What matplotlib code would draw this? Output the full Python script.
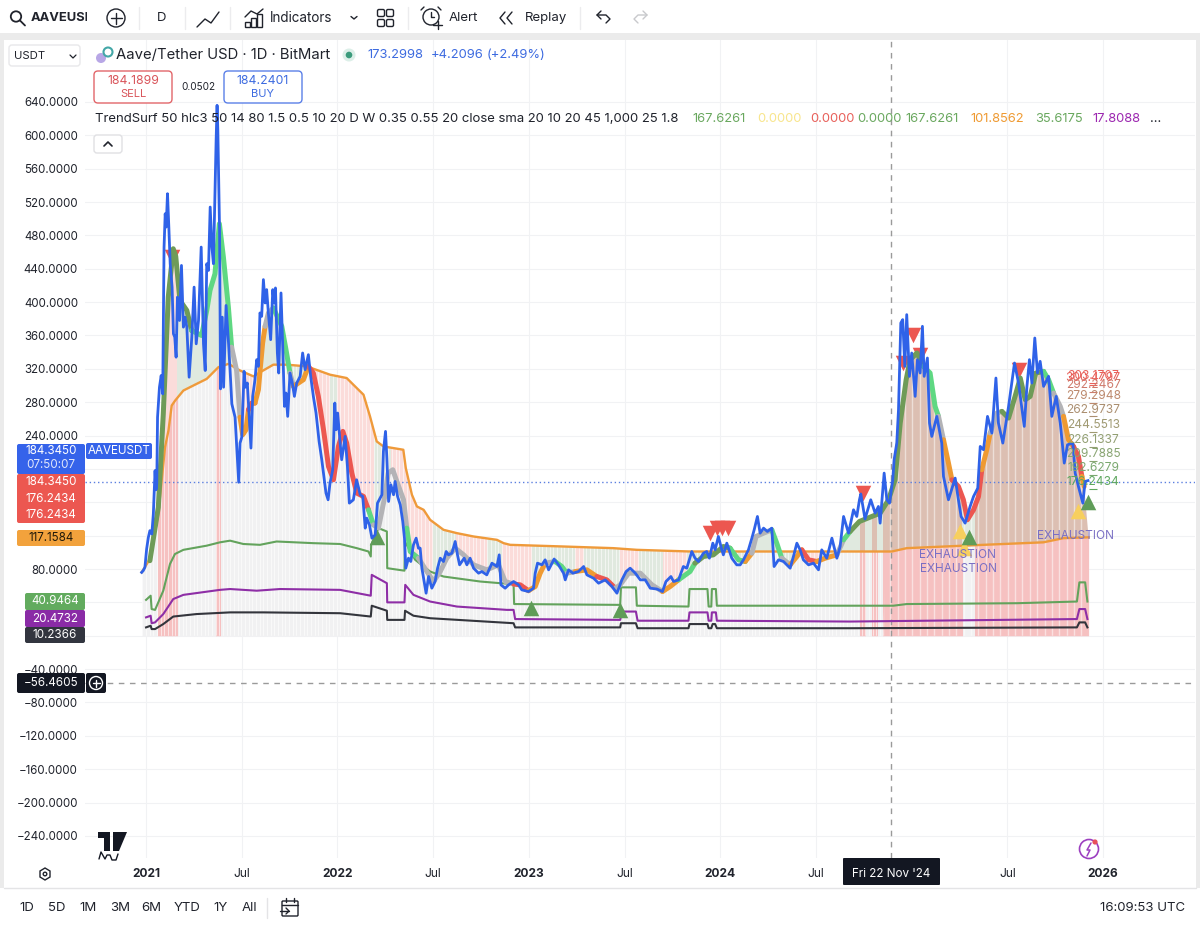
import numpy as np
import matplotlib
matplotlib.use('Agg')
import matplotlib.pyplot as plt
from matplotlib.patches import Rectangle, FancyBboxPatch, Circle, Polygon

plt.rcParams['font.family'] = ['Inter', 'DejaVu Sans']

# ── data ──────────────────────────────────────────────────────────────────────

price_x = [2020.977, 2020.985, 2020.994, 2021.003, 2021.012, 2021.02, 2021.03, 2021.038, 2021.047, 2021.052,
           2021.056, 2021.06, 2021.07, 2021.079, 2021.087, 2021.094, 2021.1, 2021.105, 2021.112, 2021.119,
           2021.126, 2021.136, 2021.143, 2021.15, 2021.157, 2021.164, 2021.175, 2021.185, 2021.195, 2021.204,
           2021.213, 2021.225, 2021.239, 2021.251, 2021.262, 2021.274, 2021.288, 2021.3, 2021.309, 2021.317,
           2021.326, 2021.335, 2021.344, 2021.352, 2021.366, 2021.371, 2021.375, 2021.384, 2021.389, 2021.398,
           2021.405, 2021.418, 2021.431, 2021.439, 2021.448, 2021.465, 2021.484, 2021.491, 2021.5, 2021.512,
           2021.519, 2021.529, 2021.538, 2021.548, 2021.557, 2021.569, 2021.578, 2021.587, 2021.595, 2021.604,
           2021.613, 2021.622, 2021.63, 2021.639, 2021.651, 2021.662, 2021.669, 2021.676, 2021.686, 2021.693,
           2021.705, 2021.714, 2021.723, 2021.731, 2021.74, 2021.752, 2021.764, 2021.775, 2021.787, 2021.805,
           2021.818, 2021.831, 2021.848, 2021.86, 2021.874, 2021.888, 2021.904, 2021.918, 2021.927, 2021.94,
           2021.951, 2021.961, 2021.975, 2021.986, 2021.993, 2022.001, 2022.014, 2022.022, 2022.04, 2022.052,
           2022.062, 2022.083, 2022.1, 2022.119, 2022.132, 2022.145, 2022.153, 2022.167, 2022.18, 2022.197,
           2022.209, 2022.232, 2022.24, 2022.251, 2022.258, 2022.267, 2022.279, 2022.293, 2022.301, 2022.314,
           2022.328, 2022.341, 2022.35, 2022.357, 2022.371, 2022.383, 2022.397, 2022.411, 2022.423, 2022.432,
           2022.441, 2022.45, 2022.463, 2022.476, 2022.493, 2022.51, 2022.523, 2022.537, 2022.554, 2022.568,
           2022.58, 2022.598, 2022.615, 2022.627, 2022.638, 2022.65, 2022.662, 2022.676, 2022.693, 2022.711,
           2022.737, 2022.754, 2022.78, 2022.807, 2022.833, 2022.845, 2022.854, 2022.876, 2022.894, 2022.92,
           2022.946, 2022.963, 2022.998, 2023.024, 2023.033, 2023.045, 2023.068, 2023.085, 2023.103, 2023.132,
           2023.155, 2023.181, 2023.19, 2023.207, 2023.23, 2023.259, 2023.286, 2023.303, 2023.338, 2023.364,
           2023.399, 2023.434, 2023.46, 2023.486, 2023.508, 2023.529, 2023.556, 2023.582, 2023.608, 2023.634,
           2023.669, 2023.698, 2023.716, 2023.742, 2023.756, 2023.782, 2023.807, 2023.825, 2023.851, 2023.868,
           2023.886, 2023.912, 2023.929, 2023.943, 2023.961, 2023.973, 2023.99, 2024.008, 2024.016, 2024.034,
           2024.06, 2024.086, 2024.104, 2024.121, 2024.147, 2024.165, 2024.177, 2024.194, 2024.208, 2024.226,
           2024.246, 2024.269, 2024.281, 2024.304, 2024.33, 2024.365, 2024.382, 2024.4, 2024.417, 2024.434,
           2024.461, 2024.487, 2024.513, 2024.53, 2024.556, 2024.583, 2024.609, 2024.626, 2024.644, 2024.67,
           2024.696, 2024.713, 2024.727, 2024.734, 2024.756, 2024.786, 2024.809, 2024.826, 2024.835, 2024.856,
           2024.87, 2024.884, 2024.901, 2024.908, 2024.922, 2024.931, 2024.943, 2024.953, 2024.964, 2024.974,
           2024.988, 2025.0, 2025.018, 2025.03, 2025.044, 2025.056, 2025.065, 2025.082, 2025.093, 2025.105,
           2025.131, 2025.157, 2025.166, 2025.192, 2025.227, 2025.244, 2025.258, 2025.279, 2025.305, 2025.323,
           2025.345, 2025.358, 2025.375, 2025.396, 2025.419, 2025.44, 2025.453, 2025.476, 2025.506, 2025.537,
           2025.558, 2025.588, 2025.602, 2025.615, 2025.628, 2025.643, 2025.657, 2025.671, 2025.689, 2025.715,
           2025.732, 2025.755, 2025.776, 2025.797, 2025.814, 2025.842, 2025.854, 2025.871, 2025.894, 2025.906,
           2025.921]
price_y = [76, 78, 82, 104, 118, 126, 122, 146, 198, 175,
           182, 262, 298, 312, 290, 466, 506, 490, 530, 490,
           446, 418, 362, 358, 334, 406, 378, 444, 370, 382,
           370, 310, 358, 418, 350, 378, 466, 350, 318, 446,
           438, 514, 466, 446, 594, 636, 606, 486, 296, 382,
           298, 396, 350, 318, 278, 262, 184, 231, 238, 317,
           298, 303, 267, 225, 287, 307, 331, 323, 387, 383,
           427, 399, 415, 387, 355, 415, 399, 417, 339, 315,
           411, 347, 275, 291, 263, 315, 303, 287, 303, 311,
           339, 319, 337, 311, 287, 267, 233, 211, 195, 171,
           163, 183, 199, 279, 247, 267, 231, 211, 239, 203,
           159, 163, 187, 169, 167, 129, 141, 133, 117, 121,
           159, 169, 221, 245, 213, 161, 181, 169, 185, 167,
           157, 137, 117, 81, 93, 89, 109, 117, 105, 105,
           81, 69, 51, 71, 57, 65, 81, 93, 89, 101,
           97, 99, 113, 97, 85, 89, 93, 85, 93, 81,
           75, 77, 73, 87, 83, 97, 61, 57, 61, 65,
           61, 55, 53, 57, 75, 87, 85, 91, 79, 92,
           85, 75, 67, 79, 75, 77, 83, 73, 69, 63,
           67, 59, 51, 67, 77, 81, 75, 67, 67, 57,
           56, 53, 65, 71, 65, 67, 83, 81, 101, 93,
           89, 99, 101, 93, 111, 103, 119, 103, 97, 111,
           93, 85, 85, 91, 103, 117, 127, 143, 123, 129,
           125, 129, 83, 91, 89, 81, 95, 111, 103, 91,
           85, 87, 79, 103, 93, 117, 93, 107, 143, 123,
           151, 143, 163, 170, 140, 163, 147, 155, 135, 195,
           163, 159, 187, 211, 231, 271, 375, 379, 323, 385,
           311, 339, 287, 331, 315, 371, 311, 333, 255, 239,
           263, 231, 191, 163, 189, 163, 143, 135, 155, 167,
           177, 227, 223, 263, 243, 309, 255, 231, 275, 327,
           303, 251, 299, 331, 303, 357, 315, 329, 299, 311,
           263, 287, 255, 207, 229, 231, 195, 179, 159, 185,
           186]

trend_x = [2021.02, 2021.064, 2021.09, 2021.116, 2021.142, 2021.155, 2021.177, 2021.213, 2021.238, 2021.29,
           2021.317, 2021.334, 2021.36, 2021.383, 2021.404, 2021.43, 2021.447, 2021.473, 2021.491, 2021.505,
           2021.522, 2021.535, 2021.552, 2021.569, 2021.587, 2021.596, 2021.609, 2021.622, 2021.639, 2021.665,
           2021.709, 2021.731, 2021.752, 2021.77, 2021.796, 2021.822, 2021.848, 2021.874, 2021.9, 2021.927,
           2021.953, 2021.979, 2022.005, 2022.028, 2022.048, 2022.075, 2022.101, 2022.136, 2022.162, 2022.188,
           2022.214, 2022.249, 2022.265, 2022.289, 2022.31, 2022.345, 2022.362, 2022.38, 2022.423, 2022.467,
           2022.502, 2022.537, 2022.571, 2022.615, 2022.659, 2022.711, 2022.78, 2022.841, 2022.876, 2022.92,
           2022.955, 2022.998, 2023.033, 2023.059, 2023.085, 2023.137, 2023.172, 2023.198, 2023.242, 2023.303,
           2023.355, 2023.407, 2023.451, 2023.477, 2023.521, 2023.582, 2023.643, 2023.698, 2023.738, 2023.782,
           2023.842, 2023.868, 2023.912, 2023.964, 2024.016, 2024.051, 2024.095, 2024.13, 2024.165, 2024.187,
           2024.226, 2024.269, 2024.295, 2024.321, 2024.365, 2024.4, 2024.426, 2024.461, 2024.504, 2024.548,
           2024.609, 2024.644, 2024.678, 2024.727, 2024.835, 2024.879, 2024.913, 2024.94, 2024.971, 2024.992,
           2025.027, 2025.061, 2025.096, 2025.122, 2025.14, 2025.166, 2025.192, 2025.21, 2025.244, 2025.27,
           2025.291, 2025.323, 2025.349, 2025.366, 2025.392, 2025.41, 2025.445, 2025.471, 2025.506, 2025.54,
           2025.567, 2025.593, 2025.619, 2025.648, 2025.689, 2025.715, 2025.741, 2025.776, 2025.793, 2025.819,
           2025.845, 2025.871, 2025.889, 2025.901]
trend_y = [90, 154, 266, 406, 464, 455, 402, 390, 366, 360,
           390, 414, 434, 494, 454, 394, 346, 318, 262, 241,
           247, 271, 279, 279, 295, 319, 351, 371, 387, 393,
           371, 343, 315, 299, 303, 307, 323, 315, 287, 247,
           203, 187, 227, 245, 231, 195, 171, 167, 151, 133,
           129, 169, 195, 199, 185, 163, 129, 101, 93, 77,
           65, 77, 93, 105, 97, 85, 79, 85, 65, 62,
           61, 54, 59, 75, 87, 89, 83, 75, 77, 79,
           71, 67, 57, 61, 75, 75, 61, 53, 59, 67,
           77, 87, 95, 97, 107, 105, 91, 89, 99, 119,
           123, 127, 111, 93, 85, 95, 103, 91, 89, 93,
           97, 115, 125, 137, 147, 163, 187, 255, 307, 331,
           339, 323, 315, 275, 263, 235, 207, 187, 179, 163,
           139, 151, 167, 199, 223, 243, 267, 269, 261, 287,
           309, 283, 287, 315, 317, 307, 291, 275, 263, 235,
           227, 215, 191, 179]
# state of each trend point: d olive, g green, o orange, r red, k grey
trend_state = ('ddddddddgg' 'ggggggkkoo' 'orrooookkg' 'ggkooorrrr' 'rrrrrrrrgk'
               'kkkkkkggkk' 'kkkkkkkkkr' 'roookggkoo' 'rrkkkkkoog' 'gddddggokk'
               'kggkoorroo' 'kgdddddddd' 'dgggkoorrr' 'rrrookkddd' 'ddddggkkoo' 'rroo')

orange_x = [2020.977, 2021.02, 2021.064, 2021.099, 2021.117, 2021.134, 2021.152, 2021.195, 2021.247, 2021.317,
            2021.378, 2021.431, 2021.491, 2021.561, 2021.604, 2021.665, 2021.735, 2021.839, 2021.961, 2022.048,
            2022.083, 2022.136, 2022.17, 2022.205, 2022.24, 2022.344, 2022.357, 2022.389, 2022.415, 2022.45,
            2022.484, 2022.554, 2022.624, 2022.711, 2022.833, 2022.868, 2022.902, 2023.18, 2023.442, 2023.564,
            2023.843, 2024.678, 2024.896, 2024.974, 2025.375, 2025.688, 2025.793, 2025.924]
orange_y = [76, 92, 146, 226, 246, 276, 282, 294, 300, 308,
            322, 326, 318, 311, 317, 325, 325, 323, 313, 309,
            301, 289, 263, 233, 227, 223, 201, 169, 155, 151,
            139, 127, 123, 119, 115, 111, 109, 107, 105, 103,
            101, 101, 101, 105, 109, 112, 117, 118]

atr1_x = [2021.0, 2021.024, 2021.029, 2021.047, 2021.09, 2021.125, 2021.151, 2021.195, 2021.317, 2021.386,
          2021.439, 2021.508, 2021.595, 2021.682, 2021.874, 2022.014, 2022.101, 2022.162, 2022.174, 2022.176,
          2022.214, 2022.258, 2022.26, 2022.35, 2022.352, 2022.406, 2022.484, 2022.554, 2022.746, 2022.85,
          2022.92, 2022.923, 2023.477, 2023.481, 2023.559, 2023.564, 2023.834, 2023.839, 2023.933, 2023.939,
          2023.953, 2023.956, 2023.977, 2023.982, 2024.678, 2024.904, 2024.974, 2025.549, 2025.863, 2025.876,
          2025.906, 2025.918]
atr1_y = [43, 48, 32, 31, 54, 86, 98, 103, 108, 112,
          114, 110, 109, 113, 111, 110, 105, 101, 95, 109,
          129, 125, 81, 78, 113, 91, 77, 71, 65, 63,
          62, 38, 37, 58, 58, 36, 35, 56, 56, 35,
          35, 56, 56, 36, 36, 36, 38, 39, 41, 64,
          64, 41]

atr2_x = [2021.0, 2021.024, 2021.029, 2021.047, 2021.09, 2021.142, 2021.195, 2021.386, 2021.439, 2021.578,
          2021.7, 2022.014, 2022.174, 2022.179, 2022.258, 2022.26, 2022.35, 2022.354, 2022.397, 2022.484,
          2022.624, 2022.885, 2022.92, 2022.928, 2023.477, 2023.486, 2023.559, 2023.568, 2023.834, 2023.839,
          2023.933, 2023.939, 2023.953, 2023.956, 2023.977, 2023.982, 2024.678, 2025.863, 2025.876, 2025.906,
          2025.918]
atr2_y = [22, 24, 15, 16, 26, 44, 49, 55, 56, 54,
          56, 55, 48, 73, 63, 40, 40, 61, 49, 41,
          35, 31, 31, 20, 19, 29, 29, 18, 18, 28,
          28, 18, 18, 28, 28, 18, 17, 20, 32, 32,
          20]

atr3_x = [2021.0, 2021.024, 2021.029, 2021.047, 2021.09, 2021.142, 2021.264, 2021.439, 2021.613, 2022.014,
          2022.174, 2022.179, 2022.258, 2022.26, 2022.35, 2022.353, 2022.397, 2022.484, 2022.92, 2022.928,
          2023.477, 2023.481, 2023.559, 2023.568, 2023.834, 2023.839, 2023.933, 2023.939, 2023.953, 2023.96,
          2023.973, 2023.982, 2024.678, 2025.863, 2025.876, 2025.906, 2025.918]
atr3_y = [10, 12, 8, 8, 14, 23, 26, 28, 28, 27,
          23, 36, 30, 19, 19, 30, 24, 21, 15, 10,
          10, 15, 15, 9, 9, 14, 14, 9, 9, 14,
          14, 9, 9, 10, 16, 16, 10]

# strong red background periods, and the tint of the band between trend and long line
strong_start = [2021.06, 2021.365, 2024.73, 2024.791, 2024.852, 2025.331]
strong_end = [2021.16, 2021.385, 2024.756, 2024.817, 2025.262, 2025.924]
band_start = [2020.98, 2021.06, 2021.16, 2021.385, 2021.49, 2021.6, 2021.86, 2021.96, 2022.0, 2022.19,
              2022.28, 2022.5, 2022.62, 2022.78, 2022.86, 2023.015, 2023.24, 2023.29, 2023.475, 2023.573,
              2023.7, 2023.825, 2024.45, 2024.53, 2024.73, 2024.756, 2024.791, 2024.817, 2024.852, 2025.262,
              2025.331]
band_end = band_start[1:] + [2025.93]
band_kind = 'gpggpgpgpgpgpgpgpgpgpgpgsgsgsgs'

sell_x = [2021.136, 2023.947, 2023.983, 2024.01, 2024.04, 2024.746, 2024.955, 2025.006, 2025.044, 2025.56]
sell_y = [454, 123, 129, 129, 129, 171, 327, 360, 337, 319]
buy_x = [2022.205, 2023.013, 2023.476, 2025.3, 2025.92]
buy_y = [118, 33, 31, 118, 160]
warn_x = [2025.25, 2025.275, 2025.87]
warn_y = [125, 105, 150]

exh_x = [2025.24, 2025.245, 2025.855]
exh_y = [97, 80, 120]

lvl_labels = ['303.1707', '300.4797', '292.2467', '279.2948', '262.9737', '244.5513', '226.1337', '209.7885', '192.6279', '176.2434']
lvl_vals = [303.17, 300.48, 292.25, 279.29, 262.97, 244.55, 226.13, 209.79, 192.63, 176.24]
lvl_colors = ['#e8605a', '#e8605a', '#cf7a6c', '#bd8a6e', '#ab8f70', '#a09a72', '#929f72', '#89a572', '#7aa86f', '#5ea75f']

y_ticks = [640, 600, 560, 520, 480, 440, 400, 360, 320, 280, 240, 200, 160, 120, 80, 40, 0, -40, -80, -120, -160, -200, -240]
y_hidden = [200, 160, 120, 40, 0]
x_ticks = [2021, 2021.5, 2022, 2022.5, 2023, 2023.5, 2024, 2024.5, 2025.5, 2026]
x_labels = ['2021', 'Jul', '2022', 'Jul', '2023', 'Jul', '2024', 'Jul', 'Jul', '2026']

last_price = 184.345
cursor_price = -56.4605
cursor_date = 2024.893

indicator_text = 'TrendSurf 50 hlc3 50 14 80 1.5 0.5 10 20 D W 0.35 0.55 20 close sma 20 10 20 45 1,000 25 1.8'
indicator_vals = ['167.6261', '0.0000', '0.0000', '0.0000', '167.6261', '101.8562', '35.6175', '17.8088']
indicator_cols = ['#6aa85f', '#f8e58c', '#e8605a', '#6aa85f', '#6aa85f', '#ef9a32', '#6aa85f', '#9c27b0']
indicator_pos = [692, 757, 810, 857, 905, 970, 1035, 1092]

# ── palette ───────────────────────────────────────────────────────────────────

C_BLUE = '#2f62e8'
C_ORANGE = '#ef9a3a'
C_RED = '#ec5750'
C_GRID = '#f1f2f4'
C_TEXT = '#20232c'
STATE_COL = {'d': '#6f9b58', 'g': '#5fd882', 'o': '#ef9a32', 'r': '#ec5750', 'k': '#b3b3b6'}
BAND_COL = {'g': '#e0e9df', 'p': '#fbdcda', 's': '#dcbfb2'}

W, H = 1200, 925
fig = plt.figure(figsize=(W / 100, H / 100), dpi=100, facecolor='#ebebeb')

# white panel behind the price scale and time scale
bg = fig.add_axes([4 / W, 1 - 888 / H, 1192 / W, 848 / H], facecolor='white', zorder=-1)
bg.set_xticks([])
bg.set_yticks([])
for s in bg.spines.values():
    s.set_visible(False)

# ── main pane, pixels 85..1195 by 40..858 ─────────────────────────────────────

ax = fig.add_axes([85 / W, 1 - 858 / H, (1195 - 85) / W, (858 - 40) / H], facecolor='white')
ax.set_xlim(2020.681, 2026.48)
ax.set_ylim(-266.5, 714.3)
for s in ax.spines.values():
    s.set_visible(False)
ax.set_yticks(y_ticks)
ax.set_yticklabels(['' if v in y_hidden else f'{v:.4f}'.replace('-', '−') for v in y_ticks], fontsize=8.3, color=C_TEXT)
ax.set_xticks(x_ticks)
ax.set_xticklabels(x_labels, fontsize=8.6, color=C_TEXT)
for lab, t in zip(ax.get_xticklabels(), x_labels):
    if t != 'Jul':
        lab.set_fontweight('bold')
ax.tick_params(length=0, axis='y', pad=5)
ax.tick_params(length=0, axis='x', pad=7)
ax.grid(True, color=C_GRID, lw=0.8)
ax.set_axisbelow(True)


def clip_span(artist, x0, x1):
    artist.set_clip_path(Rectangle((x0, -1000), x1 - x0, 3000, transform=ax.transData))


px, py = np.array(price_x), np.array(price_y)
tx, ty = np.array(trend_x), np.array(trend_y)
ox, oy = np.array(orange_x), np.array(orange_y)

# background under the long line
base = ax.fill_between(ox, 0, oy, color='#f1f1f2', lw=0, zorder=1)
for x0, x1 in zip(strong_start, strong_end):
    clip_span(ax.fill_between(ox, 0, oy, color='#f6c1c1', lw=0, zorder=1.2), x0, x1)

# band between the trend and the long line
for x0, x1, k in zip(band_start, band_end, band_kind):
    poly = ax.fill(np.r_[tx, ox[::-1]], np.r_[ty, oy[::-1]], color=BAND_COL[k], lw=0, zorder=1.4)[0]
    clip_span(poly, x0, x1)

# weekly stripes
weeks = np.arange(2020.98, 2024.85, 7 / 365)
stripes = ax.vlines(weeks, 0, 400, color='white', lw=0.7, alpha=0.6, zorder=1.6)
stripes.set_clip_path(base.get_paths()[0], ax.transData)
late = tx >= 2024.85
late_poly = Polygon(np.c_[np.r_[2024.85, tx[late], 2025.924], np.r_[0, ty[late], 0]], transform=ax.transData)
stripes2 = ax.vlines(np.arange(2024.85, 2025.93, 14 / 365), 0, 400, color='white', lw=1.0, alpha=0.5, zorder=1.6)
stripes2.set_clip_path(late_poly)

ax.axhline(last_price, color='#5b7fe0', lw=1, ls=(0, (1, 2)), zorder=2)
ax.axhline(cursor_price, color='#9a9a9a', lw=1, ls=(0, (4, 4)), zorder=2)
ax.axvline(cursor_date, color='#9a9a9a', lw=1, ls=(0, (4, 4)), zorder=2)

ax.plot(ox, oy, color=C_ORANGE, lw=1.7, zorder=3, solid_joinstyle='round')
ax.plot(atr1_x, atr1_y, color='#63a35c', lw=1.5, zorder=3)
ax.plot(atr2_x, atr2_y, color='#8e2ea6', lw=1.5, zorder=3)
ax.plot(atr3_x, atr3_y, color='#33353c', lw=1.5, zorder=3)

ax.scatter(sell_x, sell_y, marker='v', s=125, color=C_RED, lw=0, zorder=3.5)

# trend, one stroke per colour run
start = 0
for i in range(1, len(tx)):
    if i == len(tx) - 1 or trend_state[i] != trend_state[start]:
        ax.plot(tx[start:i + 1], ty[start:i + 1], color=STATE_COL[trend_state[start]], lw=3.6, zorder=4,
                solid_capstyle='round', solid_joinstyle='round')
        start = i

ax.scatter(warn_x, warn_y, marker='^', s=125, color='#f7cf5e', lw=0, zorder=4.6)
ax.scatter(buy_x, buy_y, marker='^', s=125, color='#5f9c58', lw=0, zorder=4.7)

ax.plot(px, py, color=C_BLUE, lw=2.0, zorder=5, solid_joinstyle='round')

for x, y in zip(exh_x, exh_y):
    ax.text(x, y, 'EXHAUSTION', color='#7a6fc4', fontsize=8.5, ha='center', va='center', zorder=6)

for lab, v, c in zip(lvl_labels, lvl_vals, lvl_colors):
    ax.hlines(v, 2025.927, 2025.969, color=c, lw=0.8, zorder=6)
    ax.text(2025.948, v + 1, lab, color=c, fontsize=8.6, ha='center', va='bottom', zorder=6)

# ── chrome, in pixels ─────────────────────────────────────────────────────────

ov = fig.add_axes([0, 0, 1, 1], facecolor='none')
ov.set_xlim(0, W)
ov.set_ylim(H, 0)
ov.axis('off')


def box(x0, y0, x1, y1, fc, ec='none', r=2, lw=1, z=3):
    ov.add_patch(FancyBboxPatch((x0 + r, y0 + r), x1 - x0 - 2 * r, y1 - y0 - 2 * r, boxstyle=f'round,pad={r}',
                                fc=fc, ec=ec, lw=lw, zorder=z))


def txt(x, y, s, color=C_TEXT, size=8.4, ha='left', weight='normal', z=5):
    ov.text(x, y, s, color=color, fontsize=size, ha=ha, va='center', fontweight=weight, zorder=z)


def seg(xs, ys, color=C_TEXT, lw=1.0, z=5):
    ov.plot(xs, ys, color=color, lw=lw, zorder=z, solid_capstyle='round')


# surround
ov.add_patch(Rectangle((0, 0), W, 33, fc='white', ec='none', zorder=2))
ov.add_patch(Rectangle((0, 888), W, 37, fc='white', ec='none', zorder=2))
seg([4, 1196], [888, 888], '#e4e4e6', 1, 3)

# toolbar
ov.add_patch(Circle((16, 16.5), 5.2, fc='none', ec=C_TEXT, lw=1.3, zorder=5))
seg([20, 25], [20.5, 25.5], C_TEXT, 1.3)
txt(31, 18, 'AAVEUSDT', size=9.3, weight='bold')
ov.add_patch(Rectangle((87, 8), 20, 20, fc='white', ec='none', zorder=6))
ov.add_patch(Circle((116, 18), 9, fc='none', ec=C_TEXT, lw=1, zorder=7))
seg([110.5, 121.5], [18, 18], z=7)
seg([116, 116], [12.5, 23.5], z=7)
txt(162, 18, 'D', size=9.5, ha='center')
for xs in (139, 185, 230, 408, 580):
    seg([xs, xs], [7, 29], '#ececee', 1)
seg([197, 205, 211, 219], [27, 19, 23, 12], C_TEXT, 1)
seg([245, 251, 257, 263], [17, 11, 14, 9], C_TEXT, 1)
for x0, h in zip((245, 251, 257), (5, 9, 13)):
    ov.add_patch(Rectangle((x0, 27 - h), 5, h, fc='none', ec=C_TEXT, lw=1, zorder=5))
txt(270, 18, 'Indicators', size=9.7)
seg([351, 354, 357], [16.5, 19, 16.5], C_TEXT, 1)
for cx, cy in ((381, 13), (390, 13), (381, 23), (390, 23)):
    box(cx - 3.5, cy - 3.5, cx + 3.5, cy + 3.5, 'white', C_TEXT, 1.5, 1, 5)
ov.add_patch(Circle((431, 17), 8, fc='none', ec=C_TEXT, lw=1, zorder=5))
seg([431, 431, 434], [12, 17, 17])
seg([424, 421], [7, 10])
seg([438, 441], [7, 10])
seg([433, 442], [25, 25])
seg([437.5, 437.5], [21, 29])
txt(449, 18, 'Alert', size=9.5)
seg([505, 500, 505], [12, 18, 24])
seg([512, 507, 512], [12, 18, 24])
txt(525, 18, 'Replay', size=9.5)
seg([601, 597, 601], [11, 15, 19], C_TEXT, 1)
seg([597, 606, 610, 606], [15, 15, 19, 23], C_TEXT, 1)
seg([643, 647, 643], [11, 15, 19], '#c8c9cc', 1)
seg([647, 638, 634, 638], [15, 15, 19, 23], '#c8c9cc', 1)

# legend rows
box(9, 45, 80, 66, 'white', '#e8e8ea', 3, 1)
txt(14, 56, 'USDT', size=8.2)
seg([70, 73, 76], [55, 58, 55], C_TEXT, 0.9)
ov.add_patch(Circle((101, 58), 5, fc='#b8a7e6', ec='none', zorder=5))
ov.add_patch(Circle((108, 52), 4.5, fc='none', ec='#43a7a7', lw=1.5, zorder=5))
txt(116, 55, 'Aave/Tether USD · 1D · BitMart', size=10.7)
ov.add_patch(Circle((349, 55), 6.5, fc='#dcefe8', ec='none', zorder=5))
ov.add_patch(Circle((349, 55), 3.3, fc='#3b9b7c', ec='none', zorder=5))
txt(367, 55, '173.2998', '#3d6be0', 9.3)
txt(431, 55, '+4.2096', '#3d6be0', 9.3)
txt(487, 55, '(+2.49%)', '#3d6be0', 9.3)

box(94, 71, 172, 103, 'white', '#e2666a', 4, 1)
txt(133, 81, '184.1899', '#d9545a', 8.8, 'center', z=6)
txt(133, 94, 'SELL', '#d9545a', 8, 'center', z=6)
txt(198, 87, '0.0502', C_TEXT, 7.2, 'center')
box(224, 71, 302, 103, 'white', '#5b80e8', 4, 1)
txt(263, 81, '184.2401', '#3d6be0', 8.8, 'center', z=6)
txt(263, 94, 'BUY', '#3d6be0', 8, 'center', z=6)

txt(95, 119, indicator_text, size=9.45)
for x, s, c in zip(indicator_pos, indicator_vals, indicator_cols):
    txt(x, 119, s, c, 9.3)
txt(1150, 119, '...', size=9.5)
box(94, 135, 122, 153, 'white', '#e0e0e3', 3, 1)
seg([104, 108, 112], [146, 142, 146], C_TEXT, 1.2)

# price tags
box(17, 444, 85, 474, '#3563ea', r=2)
txt(51, 451.5, '184.3450', 'white', 8.4, 'center')
txt(51, 465.5, '07:50:07', '#dfe6fb', 8.4, 'center')
box(86, 443, 152, 459, '#3563ea', r=2)
txt(119, 451.5, 'AAVEUSDT', 'white', 8.4, 'center')
box(17, 474, 85, 523, C_RED, r=2)
txt(51, 482, '184.3450', 'white', 8.4, 'center')
txt(51, 499, '176.2434', 'white', 8.4, 'center')
txt(51, 515, '176.2434', 'white', 8.4, 'center')
box(17, 530, 85, 546, '#f2a23c', r=2)
txt(51, 538, '117.1584', '#221a0a', 8.4, 'center')
box(25, 593, 85, 610, '#62ab5e', r=2)
txt(55, 601.5, '40.9464', 'white', 8.4, 'center')
box(25, 610, 85, 627, '#8a2ba6', r=2)
txt(55, 618.5, '20.4732', 'white', 8.4, 'center')
box(25, 627, 85, 643, '#32353f', r=2)
txt(55, 635, '10.2366', 'white', 8.4, 'center')
box(17, 673, 85, 693, '#131722', r=2)
txt(51, 683, '−56.4605', 'white', 8.4, 'center')
box(86, 673, 106, 693, '#131722', r=2)
ov.add_patch(Circle((96, 683), 6.5, fc='none', ec='white', lw=1, zorder=6))
seg([92.5, 99.5], [683, 683], 'white', 1, 6)
seg([96, 96], [679.5, 686.5], 'white', 1, 6)

# cursor date tag
box(843, 858, 940, 885, '#131722', r=1)
txt(891, 874, "Fri 22 Nov '24", 'white', 8.4, 'center')

# logo and small icons
ov.add_patch(Polygon([(98, 832), (110, 832), (110, 851), (104, 851), (104, 838), (98, 838)], fc='#131722', ec='none', zorder=5))
ov.add_patch(Polygon([(113, 832), (127, 832), (119, 851), (113, 851)], fc='#131722', ec='none', zorder=5))
seg([99, 101, 105, 107, 110, 112, 116, 118], [859, 852, 859, 855, 855, 860, 860, 854], '#131722', 1)
ov.add_patch(Polygon([(45, 868), (50, 871), (50, 877), (45, 880), (40, 877), (40, 871)], fc='none', ec=C_TEXT, lw=1, zorder=5))
ov.add_patch(Circle((45, 874), 1.8, fc='none', ec=C_TEXT, lw=1, zorder=5))
ov.add_patch(Circle((1089, 849), 9.5, fc='none', ec='#9c3fc0', lw=1.2, zorder=5))
seg([1091, 1087, 1090, 1087], [843, 850, 850, 856], '#9c3fc0', 1.1)
ov.add_patch(Circle((1095, 842), 2.6, fc='#e8505b', ec='none', zorder=6))

# bottom bar
for s, x in zip(['1D', '5D', '1M', '3M', '6M', 'YTD', '1Y', 'All'], [27, 57, 88, 120, 151, 187, 221, 249]):
    txt(x, 908, s, size=9.5, ha='center')
seg([267, 267], [898, 918], '#e4e4e6', 1)
box(282, 901, 298, 916, 'white', C_TEXT, 1, 1)
seg([282, 298], [905, 905])
seg([286, 286], [898, 902])
seg([294, 294], [898, 902])
seg([280, 289], [911, 911])
seg([286, 289, 286], [908, 911, 914])
txt(1185, 908, '16:09:53 UTC', size=9.5, ha='right')

fig.savefig('out.png', dpi=100, facecolor=fig.get_facecolor())
